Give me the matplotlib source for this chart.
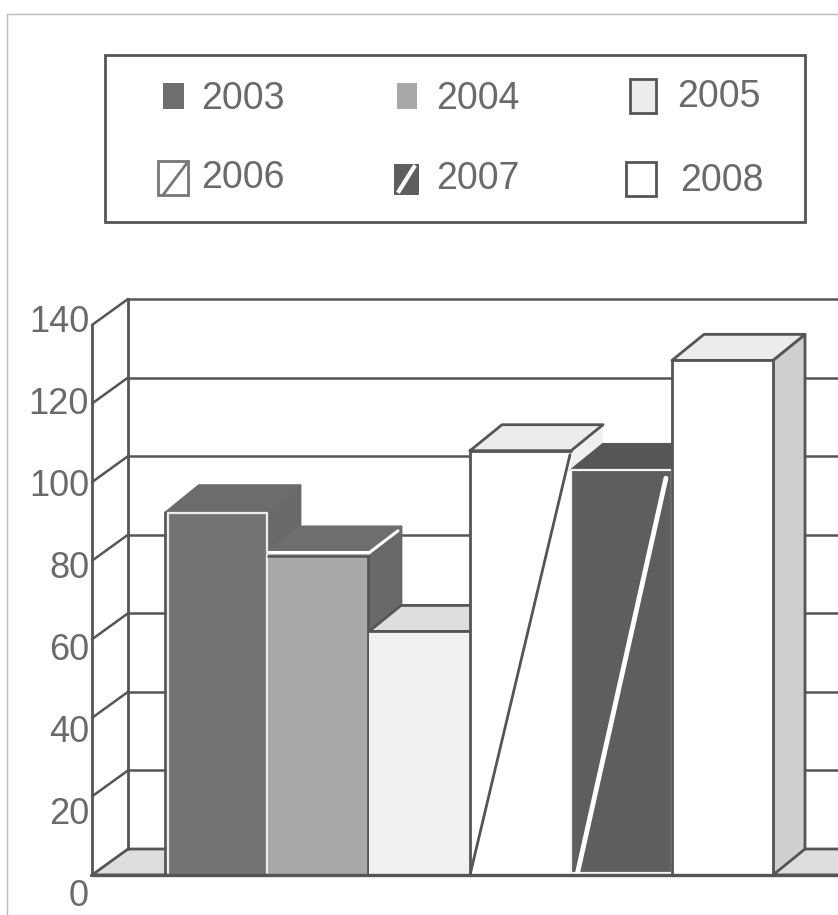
import matplotlib
matplotlib.use('Agg')
from matplotlib import pyplot as plt
from matplotlib.patches import Polygon, Rectangle

plt.rcParams['font.family'] = ['Liberation Sans', 'DejaVu Sans']

years = ['2003', '2004', '2005', '2006', '2007', '2008']
values = [92.5, 82, 62, 108, 103, 131]
y_ticks = [0, 20, 40, 60, 80, 100, 120, 140]

W, H = 838, 915
TXT = '#6a6a6a'
LINE = '#555555'

# front, top, side greys per bar
front_col = ['#747474', '#a9a9a9', '#f1f1f1', '#ffffff', '#5e5e5e', '#ffffff']
top_col = ['#6c6c6c', '#6e6e6e', '#dedede', '#ececec', '#565656', '#ececec']
side_col = ['#696969', '#686868', '#dedede', '#f0f0f0', '#565656', '#cfcfcf']

fig = plt.figure(figsize=(W / 100, H / 100), dpi=100)


def px_axes(left, right, top, bottom):
    return fig.add_axes([left / W, 1 - bottom / H, (right - left) / W, (bottom - top) / H])


# chart axes: front plane of the 3d box
ax = px_axes(92, 838, 325, 875)
ax.set_ylim(0, 140)
bar_px = 101
ax.set_xlim(-75 / bar_px, 671 / bar_px)
ax.axis('off')

# depth of the wall and of the bars, in data units
wall_dx, wall_dy = 36 / bar_px, 26 * 140 / 550
bar_dx, bar_dy = 32 / bar_px, 26 * 140 / 550
x0, x1 = ax.get_xlim()


def poly(pts, fc='none', ec=LINE, lw=2, z=2):
    ax.add_patch(Polygon(pts, closed=True, facecolor=fc, edgecolor=ec, linewidth=lw,
                         zorder=z, clip_on=False, joinstyle='round'))


def seg(xs, ys, c=LINE, lw=2, z=2):
    ax.plot(xs, ys, color=c, lw=lw, zorder=z, clip_on=False, solid_capstyle='round')


# floor
poly([(x0, 0), (x0 + wall_dx, wall_dy), (x1 + 1, wall_dy), (x1 + 1, 0)], fc='#dedede', lw=2, z=1)

# walls
seg([x0, x0], [0, 140])
seg([x0 + wall_dx, x0 + wall_dx], [wall_dy, 140 + wall_dy])
for v in y_ticks[1:]:
    seg([x0, x0 + wall_dx], [v, v + wall_dy], lw=1.8)
    seg([x0 + wall_dx, x1], [v + wall_dy, v + wall_dy], lw=1.8)
seg([x0 - 0.01, x1], [0, 0], lw=2.4, z=20)

# bars, left to right so each one covers the side of the one before
for i, v in enumerate(values):
    l, r = i, i + 1
    z = 3 + i
    side_pts = [(r, 0), (r + bar_dx, bar_dy), (r + bar_dx, v + bar_dy), (r, v)]
    top_pts = [(l, v), (l + bar_dx, v + bar_dy), (r + bar_dx, v + bar_dy), (r, v)]
    front_pts = [(l, 0), (l, v), (r, v), (r, 0)]
    # the 2006 side and the fronts of the grey bars have no dark outline in the scan
    if years[i] == '2006':
        poly(side_pts, fc=side_col[i], ec='none', z=z)
        seg([l, l + bar_dx, r + bar_dx, r, l], [v, v + bar_dy, v + bar_dy, v, v], z=z + 0.3)
        ax.add_patch(Polygon(top_pts, facecolor=top_col[i], edgecolor='none', zorder=z + 0.1))
    else:
        poly(side_pts, fc=side_col[i], ec=LINE if years[i] == '2008' else side_col[i], z=z)
        poly(top_pts, fc=top_col[i], ec=LINE if years[i] in ('2005', '2008') else top_col[i], z=z)
    ax.add_patch(Polygon(front_pts, facecolor=front_col[i], edgecolor='none', zorder=z + 0.2))

    if years[i] == '2003':
        seg([l - 0.02, l - 0.02], [0, v], z=z + 0.4)
        seg([l + 0.012, l + 0.012, r - 0.012, r - 0.012], [0.5, v - 0.4, v - 0.4, 0.5],
            c='#eeeeee', lw=1.6, z=z + 0.4)
    elif years[i] == '2004':
        seg([l, r], [v + 0.2, v + 0.2], c='white', lw=2.2, z=z + 0.4)
        seg([l, r], [v - 0.9, v - 0.9], lw=1.8, z=z + 0.4)
        seg([r, r + bar_dx - 0.03], [v, v + bar_dy - 1], c='white', lw=2.2, z=z + 0.4)
        seg([r - 0.01, r - 0.01], [0.5, v - 1], lw=2, z=z + 0.4)
    elif years[i] == '2005':
        seg([l, r], [v, v], lw=2, z=z + 0.4)
    elif years[i] == '2006':
        seg([l, l, r], [0, v, v], z=z + 0.4)
    elif years[i] == '2007':
        seg([l, l, r, r, l], [0.6, v, v, 0.6, 0.6], c='#f4f4f4', lw=1.6, z=z + 0.4)
    else:
        seg([l, l, r, r], [0, v, v, 0], z=z + 0.4)

# diagonal stripes on 2006 and 2007
seg([3, 3.99], [0, values[3] - 1], z=7)
seg([4.06, 4.94], [0, values[4] - 2], c='white', lw=3.5, z=8)

# tick labels sit on their own scale, below and wider than the box
lab = px_axes(40, 89, 323, 896)
lab.set_ylim(0, 140)
lab.set_xticks([])
lab.set_yticks([])
lab.patch.set_alpha(0)
for s in lab.spines.values():
    s.set_visible(False)
for v in y_ticks:
    lab.annotate(str(v), (1, v), xycoords=('axes fraction', 'data'), ha='right', va='center',
                 fontsize=26, color=TXT, annotation_clip=False)

# overlay in pixels for the frame and the legend
ov = fig.add_axes([0, 0, 1, 1])
ov.set_xlim(0, W)
ov.set_ylim(H, 0)
ov.axis('off')
ov.patch.set_alpha(0)

ov.plot([7, 7], [14, H], color='#bbbbbb', lw=1)
ov.plot([7, W], [14, 14], color='#bbbbbb', lw=1)
ov.add_patch(Rectangle((105, 55), 700, 167, fill=False, ec=LINE, lw=2))

# legend swatches
ov.add_patch(Rectangle((163, 83), 21, 26, fc='#6f6f6f', ec='none'))
ov.add_patch(Rectangle((397, 83), 20, 26, fc='#a9a9a9', ec='none'))
ov.add_patch(Rectangle((630, 79), 26, 34, fc='#ececec', ec=LINE, lw=2))
ov.add_patch(Rectangle((158, 161), 30, 34, fc='white', ec='#777777', lw=2))
ov.plot([163, 187], [195, 163], color='#777777', lw=2)
ov.add_patch(Rectangle((394, 164), 25, 31, fc='#5e5e5e', ec='none'))
ov.plot([399, 414], [191, 167], color='white', lw=3)
ov.add_patch(Rectangle((626, 162), 30, 34, fc='white', ec=LINE, lw=2))

label_pos = [(201, 99), (436, 99), (677, 97), (201, 178), (436, 179), (680, 181)]
for yr, (tx, ty) in zip(years, label_pos):
    ov.text(tx, ty, yr, fontsize=27, color=TXT, ha='left', va='center')

fig.savefig('out.png', dpi=100)
